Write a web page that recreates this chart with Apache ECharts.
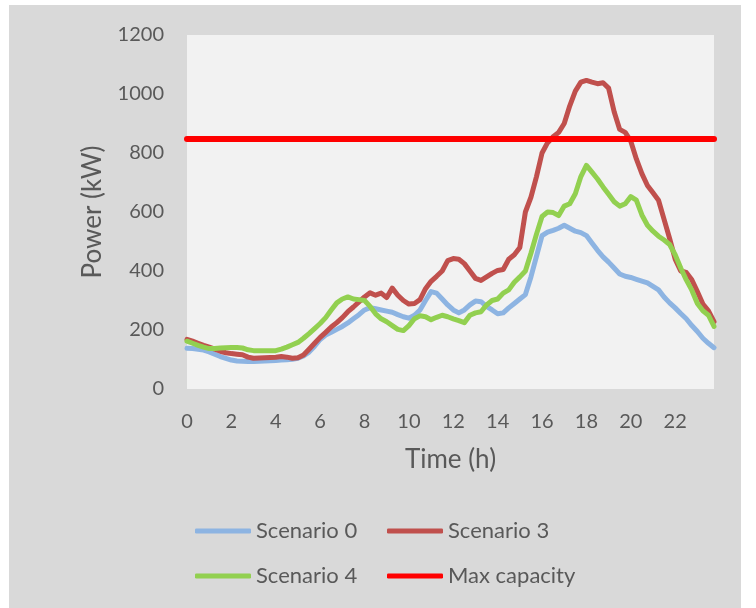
<!DOCTYPE html>
<html>
<head>
<meta charset="utf-8">
<script src="https://cdn.jsdelivr.net/npm/echarts@6/dist/echarts.min.js"></script>
<style>
  html, body { margin: 0; padding: 0; background: #ffffff; }
  #chart { width: 756px; height: 608px; }
</style>
</head>
<body>
<div id="chart"></div>
<script>
// Quarter-hour load profiles (kW), 0:00 to 23:45
const scenario0 = [
  138, 137, 135, 132, 126, 118, 110, 104, 98, 95, 94, 93,
  93, 94, 95, 96, 97, 98, 99, 101, 104, 112, 125, 145,
  168, 183, 192, 202, 212, 224, 238, 252, 268, 276, 272, 268,
  264, 260, 252, 245, 240, 250, 268, 300, 330, 325, 305, 285,
  268, 258, 268, 285, 298, 296, 280, 268, 255, 258, 275, 290,
  305, 320, 380, 450, 520, 532, 538, 545, 555, 545, 535, 530,
  520, 495, 470, 448, 430, 410, 390, 382, 378, 372, 366, 360,
  348, 336, 312, 292, 275, 256, 238, 215, 195, 172, 155, 140
];
const scenario3 = [
  168, 162, 155, 148, 142, 135, 128, 123, 120, 118, 116, 108,
  104, 105, 106, 107, 108, 110, 108, 104, 106, 115, 135, 155,
  175, 192, 210, 225, 242, 262, 278, 295, 312, 326, 318, 325,
  310, 342, 318, 300, 288, 290, 303, 340, 365, 382, 400, 435,
  442, 440, 425, 400, 375, 368, 380, 392, 402, 405, 440, 455,
  480, 600, 650, 720, 800, 835, 855, 870, 900, 960, 1010, 1040,
  1046, 1040, 1035, 1038, 1020, 940, 880, 870, 840, 780, 730, 690,
  665, 640, 575, 510, 440, 400, 395, 370, 330, 288, 265, 228
];
const scenario4 = [
  162, 155, 148, 142, 137, 137, 139, 140, 141, 141, 139, 133,
  130, 130, 130, 130, 130, 135, 142, 150, 158, 172, 188, 205,
  222, 242, 268, 292, 305, 312, 305, 303, 300, 280, 255, 238,
  228, 215, 202, 198, 215, 238, 248, 245, 235, 243, 250, 245,
  238, 232, 225, 250, 258, 262, 285, 300, 305, 325, 336, 362,
  380, 400, 460, 525, 585, 600, 598, 588, 620, 628, 662, 720,
  758, 735, 712, 685, 660, 635, 620, 628, 652, 640, 590, 555,
  535, 518, 505, 490, 455, 410, 370, 335, 290, 265, 250, 212
];
const maxCapacity = 850;

// Time axis in hours, one entry per quarter hour
const timeSteps = [];
for (let i = 0; i < scenario0.length; i++) timeSteps.push(String(i / 4));

const yTicks = { min: 0, max: 1200, interval: 200 };

const textColor = '#595959';
const fontFamily = 'Lato, "Open Sans", sans-serif';

const chart = echarts.init(document.getElementById('chart'), null, { renderer: 'canvas' });

function legendItem(name, left, top) {
  return {
    data: [name],
    left: left,
    top: top,
    icon: 'roundRect',
    itemWidth: 56,
    itemHeight: 5,
    padding: 0,
    selectedMode: false,
    textStyle: { color: textColor, fontSize: 22, fontFamily: fontFamily }
  };
}

chart.setOption({
  animation: false,
  backgroundColor: '#ffffff',
  graphic: [{
    type: 'rect',
    z: -10,
    silent: true,
    shape: { x: 9, y: 5, width: 732, height: 603 },
    style: { fill: '#d9d9d9' }
  }],
  grid: {
    left: 187, right: 42, top: 35, bottom: 219,
    show: true, backgroundColor: '#f2f2f2', borderWidth: 0
  },
  legend: [
    legendItem('Scenario 0', 195, 520),
    legendItem('Scenario 3', 387, 520),
    legendItem('Scenario 4', 195, 565),
    legendItem('Max capacity', 387, 565)
  ],
  xAxis: {
    type: 'category',
    data: timeSteps,
    boundaryGap: false,
    name: 'Time (h)',
    nameLocation: 'middle',
    nameGap: 58,
    nameTextStyle: { color: textColor, fontSize: 26, fontFamily: fontFamily },
    axisLine: { show: false },
    axisTick: { show: false },
    axisLabel: {
      interval: 7,
      margin: 23,
      color: textColor,
      fontSize: 20,
      fontFamily: fontFamily
    },
    splitLine: { show: false }
  },
  yAxis: {
    type: 'value',
    min: yTicks.min,
    max: yTicks.max,
    interval: yTicks.interval,
    name: 'Power (kW)',
    nameLocation: 'middle',
    nameGap: 81,
    nameTextStyle: { color: textColor, fontSize: 26, fontFamily: fontFamily },
    axisLine: { show: false },
    axisTick: { show: false },
    axisLabel: {
      margin: 23, color: textColor, fontSize: 20, fontFamily: fontFamily,
      formatter: (v) => String(v)
    },
    splitLine: { show: false }
  },
  series: [
    {
      name: 'Scenario 0', type: 'line', data: scenario0,
      symbol: 'none', color: '#8db4e2',
      lineStyle: { width: 5, color: '#8db4e2', cap: 'round', join: 'round' }
    },
    {
      name: 'Scenario 3', type: 'line', data: scenario3,
      symbol: 'none', color: '#c0504d',
      lineStyle: { width: 5, color: '#c0504d', cap: 'round', join: 'round' }
    },
    {
      name: 'Scenario 4', type: 'line', data: scenario4,
      symbol: 'none', color: '#92d050',
      lineStyle: { width: 5, color: '#92d050', cap: 'round', join: 'round' }
    },
    {
      name: 'Max capacity', type: 'line', data: [],
      symbol: 'none', color: '#ff0000',
      lineStyle: { width: 5, color: '#ff0000' },
      markLine: {
        silent: true,
        symbol: 'none',
        label: { show: false },
        lineStyle: { type: 'solid', width: 6, color: '#ff0000', cap: 'round' },
        data: [{ yAxis: maxCapacity }]
      }
    }
  ]
});
</script>
</body>
</html>
